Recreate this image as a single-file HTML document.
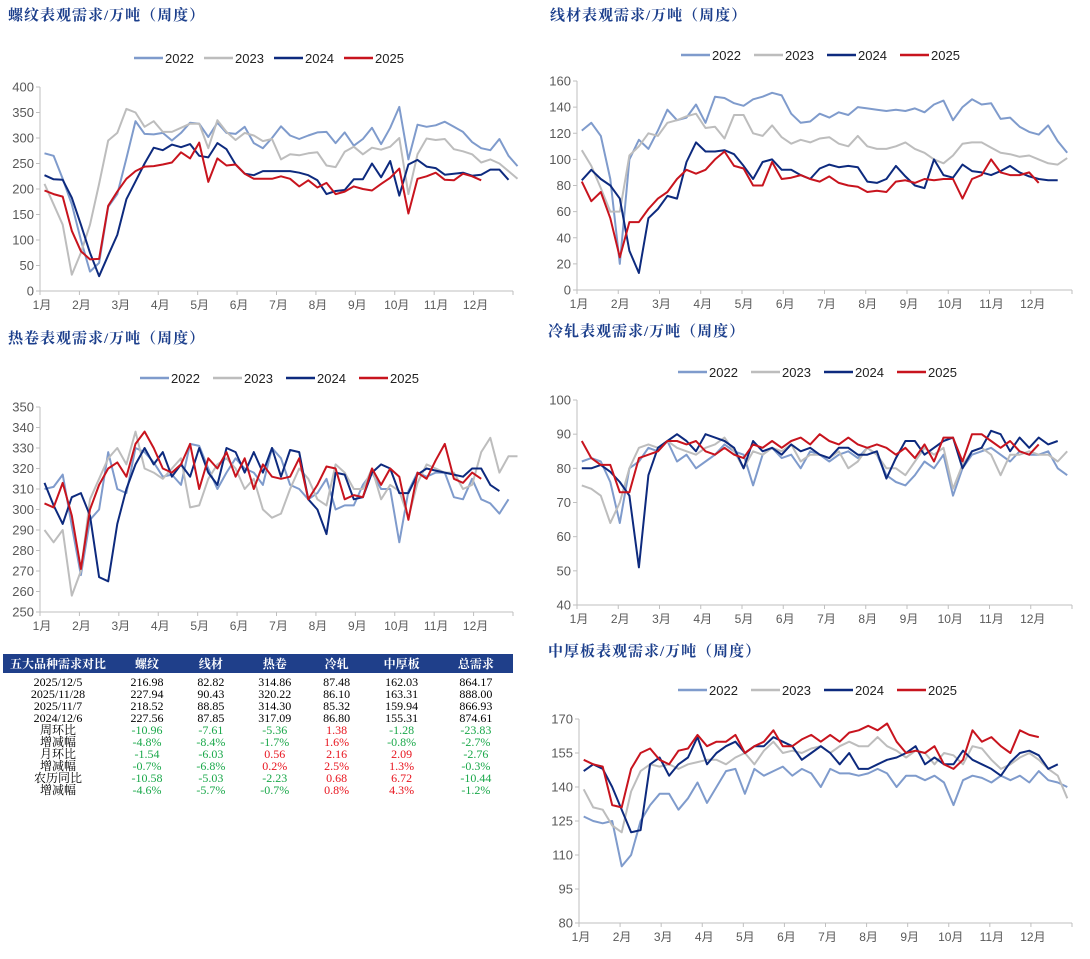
<!DOCTYPE html>
<html><head><meta charset="utf-8">
<style>
body{margin:0;background:#fff;width:1090px;height:959px;overflow:hidden;position:relative;font-family:"Liberation Sans","Noto Sans CJK SC",sans-serif}
.title{position:absolute;font-family:"Liberation Serif","Noto Serif CJK SC",serif;font-weight:bold;color:#1c3f8c;font-size:15px;letter-spacing:1px}
svg{position:absolute;left:0;top:0}
table{position:absolute;left:3px;top:654px;width:510px;border-collapse:collapse;font-family:"Liberation Serif","Noto Serif CJK SC",serif;font-size:12px}
th{background:#1f3f8a;color:#fff;height:19px;font-weight:bold;padding:0}
td{height:12px;padding:0;text-align:center;line-height:12px}
.g{color:#1aa84a}.r{color:#e8141e}
</style></head><body>
<div class="title" style="left:8px;top:4px">螺纹表观需求/万吨（周度）</div>
<div class="title" style="left:550px;top:4px">线材表观需求/万吨（周度）</div>
<div class="title" style="left:8px;top:327px">热卷表观需求/万吨（周度）</div>
<div class="title" style="left:548px;top:320px">冷轧表观需求/万吨（周度）</div>
<div class="title" style="left:548px;top:640px">中厚板表观需求/万吨（周度）</div>
<svg id="cv" width="1090" height="959"></svg>
<table>
<tr><th style="width:110px">五大品种需求对比</th><th>螺纹</th><th>线材</th><th>热卷</th><th>冷轧</th><th>中厚板</th><th>总需求</th></tr>
<tr><td style="padding-top:3px">2025/12/5</td><td style="padding-top:3px">216.98</td><td style="padding-top:3px">82.82</td><td style="padding-top:3px">314.86</td><td style="padding-top:3px">87.48</td><td style="padding-top:3px">162.03</td><td style="padding-top:3px">864.17</td></tr>
<tr><td>2025/11/28</td><td>227.94</td><td>90.43</td><td>320.22</td><td>86.10</td><td>163.31</td><td>888.00</td></tr>
<tr><td>2025/11/7</td><td>218.52</td><td>88.85</td><td>314.30</td><td>85.32</td><td>159.94</td><td>866.93</td></tr>
<tr><td>2024/12/6</td><td>227.56</td><td>87.85</td><td>317.09</td><td>86.80</td><td>155.31</td><td>874.61</td></tr>
<tr><td>周环比</td><td class="g">-10.96</td><td class="g">-7.61</td><td class="g">-5.36</td><td class="r">1.38</td><td class="g">-1.28</td><td class="g">-23.83</td></tr>
<tr><td>增减幅</td><td class="g">-4.8%</td><td class="g">-8.4%</td><td class="g">-1.7%</td><td class="r">1.6%</td><td class="g">-0.8%</td><td class="g">-2.7%</td></tr>
<tr><td>月环比</td><td class="g">-1.54</td><td class="g">-6.03</td><td class="r">0.56</td><td class="r">2.16</td><td class="r">2.09</td><td class="g">-2.76</td></tr>
<tr><td>增减幅</td><td class="g">-0.7%</td><td class="g">-6.8%</td><td class="r">0.2%</td><td class="r">2.5%</td><td class="r">1.3%</td><td class="g">-0.3%</td></tr>
<tr><td>农历同比</td><td class="g">-10.58</td><td class="g">-5.03</td><td class="g">-2.23</td><td class="r">0.68</td><td class="r">6.72</td><td class="g">-10.44</td></tr>
<tr><td>增减幅</td><td class="g">-4.6%</td><td class="g">-5.7%</td><td class="g">-0.7%</td><td class="r">0.8%</td><td class="r">4.3%</td><td class="g">-1.2%</td></tr>
</table>
<script>
const years=["2022","2023","2024","2025"];
const months=["1月","2月","3月","4月","5月","6月","7月","8月","9月","10月","11月","12月"];
const rebarTicks=[0,50,100,150,200,250,300,350,400];
const rebar2022=[270,265,220,170,100,38,55,165,190,260,333,308,307,310,295,310,330,328,302,330,310,308,322,290,280,300,323,305,298,305,311,312,290,311,285,298,320,288,320,361,258,326,322,325,332,322,312,292,280,276,298,265,245];
const rebar2023=[210,170,130,32,75,130,210,295,310,357,350,322,333,312,312,320,328,328,280,335,312,296,310,305,294,298,258,268,266,270,272,246,243,273,283,268,281,277,283,300,190,268,299,296,298,278,274,268,252,258,250,235,220];
const rebar2024=[227,219,218,183,130,75,29,70,110,180,215,250,281,276,287,282,288,265,262,290,278,248,230,227,235,235,235,235,232,227,217,190,196,198,219,219,250,223,255,187,248,257,244,241,228,230,232,226,228,238,238,218];
const rebar2025=[197,190,185,118,78,62,63,167,195,220,235,244,245,248,252,272,260,291,214,260,246,248,230,220,220,220,225,220,205,217,203,212,190,195,205,200,197,210,222,240,152,220,225,232,218,217,230,225,217];
const wireTicks=[0,20,40,60,80,100,120,140,160];
const wire2022=[122,128,118,85,20,100,115,108,122,138,130,132,142,128,148,147,143,141,146,148,151,149,135,128,129,135,132,136,134,140,139,138,137,138,137,139,136,142,145,130,140,146,142,143,131,132,125,121,119,126,114,105];
const wire2023=[107,95,78,60,60,103,110,120,118,128,130,133,135,124,125,116,134,134,120,118,126,117,112,115,113,116,117,112,110,118,110,108,108,110,113,108,105,100,97,103,112,113,113,109,105,104,102,103,100,97,96,101];
const wire2024=[84,92,85,80,70,30,13,55,62,72,70,98,113,106,106,107,104,95,85,98,100,92,92,88,85,93,96,94,95,94,83,82,85,95,87,80,78,100,88,86,96,91,90,88,91,95,90,87,85,84,84];
const wire2025=[83,68,75,55,25,52,52,62,70,75,85,92,89,92,100,106,95,93,80,80,98,85,86,88,85,83,87,82,80,79,75,76,75,83,84,82,85,84,85,85,70,85,88,100,90,88,88,90,82];
const hotTicks=[250,260,270,280,290,300,310,320,330,340,350];
const hot2022=[310,311,317,292,268,295,300,328,310,308,330,328,323,316,317,312,332,331,320,310,318,325,320,318,312,330,325,312,310,305,308,315,300,302,302,312,318,310,310,284,309,318,316,318,318,306,305,315,305,303,298,305];
const hot2023=[290,284,290,258,270,305,315,325,330,322,338,320,318,315,320,325,301,302,315,322,325,320,310,315,300,296,298,310,320,315,305,302,322,318,310,310,320,305,312,309,296,313,322,320,318,318,310,312,328,335,318,326,326];
const hot2024=[313,302,293,306,308,297,267,265,293,310,322,330,322,328,316,322,316,330,318,312,330,328,318,328,318,330,316,329,328,305,300,288,318,317,305,306,318,322,320,308,308,317,320,319,318,317,316,320,320,312,309];
const hot2025=[303,301,313,297,271,300,312,320,323,316,332,338,330,320,318,322,332,310,325,320,328,316,325,310,322,316,315,316,325,305,312,321,320,305,307,306,320,312,320,316,295,318,315,324,332,315,313,318,315];
const coldTicks=[40,50,60,70,80,90,100];
const cold2022=[82,83,82,76,64,80,82,86,85,88,82,84,80,82,84,87,85,84,75,84,86,83,84,80,85,84,82,84,85,83,86,84,78,76,75,78,82,80,84,72,80,84,85,86,84,82,85,84,84,85,80,78];
const cold2023=[75,74,72,64,70,80,86,87,86,88,86,85,84,86,87,89,85,80,85,84,86,85,87,82,84,84,83,85,80,82,86,84,80,80,78,82,86,84,86,74,81,85,86,84,78,84,84,85,84,84,82,85];
const cold2024=[80,80,81,79,76,72,51,78,86,88,90,88,85,90,89,88,86,80,88,85,86,84,87,85,86,84,83,86,86,84,84,85,77,83,88,88,84,86,88,89,80,85,86,91,90,85,89,86,89,87,88];
const cold2025=[88,83,81,81,73,73,83,84,85,88,88,87,88,85,84,86,84,83,87,86,88,86,88,89,87,90,88,87,89,87,86,87,86,84,86,83,87,82,89,89,82,90,90,88,86,88,85,84,87];
const plateTicks=[80,95,110,125,140,155,170];
const plate2022=[127,125,124,125,105,110,125,132,137,137,130,135,142,133,140,147,148,137,148,145,147,149,145,148,146,140,148,146,146,145,146,148,146,140,145,145,143,145,142,132,143,145,144,142,145,143,145,142,147,143,142,140];
const plate2023=[139,131,130,123,120,138,147,150,149,150,148,150,151,152,152,150,153,155,150,156,160,155,156,155,157,158,155,158,160,158,158,162,158,156,153,156,155,150,155,154,150,158,157,152,148,150,153,155,152,148,145,135];
const plate2024=[147,150,148,140,130,120,121,150,153,145,150,153,162,150,155,158,160,155,158,158,162,160,158,152,155,158,155,150,155,148,148,150,152,153,155,158,150,153,150,150,156,152,150,148,145,151,155,156,154,148,150];
const plate2025=[152,150,149,132,131,148,155,157,152,150,156,157,163,158,160,160,163,155,158,160,165,158,158,161,163,160,163,160,164,165,167,165,168,160,155,156,155,158,150,148,152,165,160,162,158,155,165,163,162];

const colors=["#7f9bcc","#bdbdbd","#0d2a7e","#c8141e"];
const svg=document.getElementById('cv');
const NS="http://www.w3.org/2000/svg";
function mk(tag,attrs,parent){const e=document.createElementNS(NS,tag);for(const k in attrs)e.setAttribute(k,attrs[k]);(parent||svg).appendChild(e);return e;}

function chart(name,cfg,ticks,series){
  const g=mk('g',{});
  
  
  const {x0,x1,yTop,yBot,legY,lx,sp}=cfg;
  const lo=ticks[0],hi=ticks[ticks.length-1];
  const W=x1-x0;
  const ys=v=>yBot-(v-lo)/(hi-lo)*(yBot-yTop);
  const xs=i=>x0+(i+0.5)*W/52;
  mk('line',{x1:x0,y1:yTop,x2:x0,y2:yBot,stroke:'#bfbfbf','stroke-width':1},g);
  mk('line',{x1:x0,y1:yBot,x2:x1,y2:yBot,stroke:'#bfbfbf','stroke-width':1},g);
  ticks.forEach(t=>{
    const y=ys(t);
    mk('line',{x1:x0-4,y1:y,x2:x0,y2:y,stroke:'#bfbfbf'},g);
    const tx=mk('text',{x:x0-6,y:y+4.5,'text-anchor':'end','font-size':13,fill:'#595959'},g);
    tx.textContent=t;
    
    
  });
  const mw=(W*11/12)/11;
  months.forEach((m,i)=>{
    const x=x0+i*mw;
    mk('line',{x1:x,y1:yBot,x2:x,y2:yBot+4,stroke:'#bfbfbf'},g);
    const tx=mk('text',{x:x+2,y:yBot+18,'text-anchor':'middle','font-size':12,fill:'#595959'},g);
    tx.textContent=m;
    
    
  });
  mk('line',{x1:x1,y1:yBot,x2:x1,y2:yBot+4,stroke:'#bfbfbf'},g);
  series.forEach((s,k)=>{
    const p=mk('polyline',{points:s.map((v,i)=>xs(i).toFixed(1)+','+ys(v).toFixed(1)).join(' '),fill:'none',stroke:colors[k],'stroke-width':2,'stroke-linejoin':'round'},g);
    
    
    const lxk=lx+k*sp;
    const ll=mk('line',{x1:lxk,y1:legY,x2:lxk+29,y2:legY,stroke:colors[k],'stroke-width':2.5},g);
    
    
    const lt=mk('text',{x:lxk+31,y:legY+5,'font-size':13,fill:'#222'},g);
    lt.textContent=years[k];
    
    
  });
}
chart('rebar',{x0:40,x1:513,yTop:87,yBot:291,legY:58,lx:134,sp:70},rebarTicks,[rebar2022,rebar2023,rebar2024,rebar2025]);
chart('wire',{x0:577,x1:1072,yTop:81,yBot:290,legY:55,lx:681,sp:73},wireTicks,[wire2022,wire2023,wire2024,wire2025]);
chart('hotcoil',{x0:40,x1:513,yTop:407,yBot:612,legY:378,lx:140,sp:73},hotTicks,[hot2022,hot2023,hot2024,hot2025]);
chart('coldroll',{x0:577,x1:1072,yTop:400,yBot:605,legY:372,lx:678,sp:73},coldTicks,[cold2022,cold2023,cold2024,cold2025]);
chart('plate',{x0:579,x1:1072,yTop:719,yBot:923,legY:690,lx:678,sp:73},plateTicks,[plate2022,plate2023,plate2024,plate2025]);
</script>
</body></html>
